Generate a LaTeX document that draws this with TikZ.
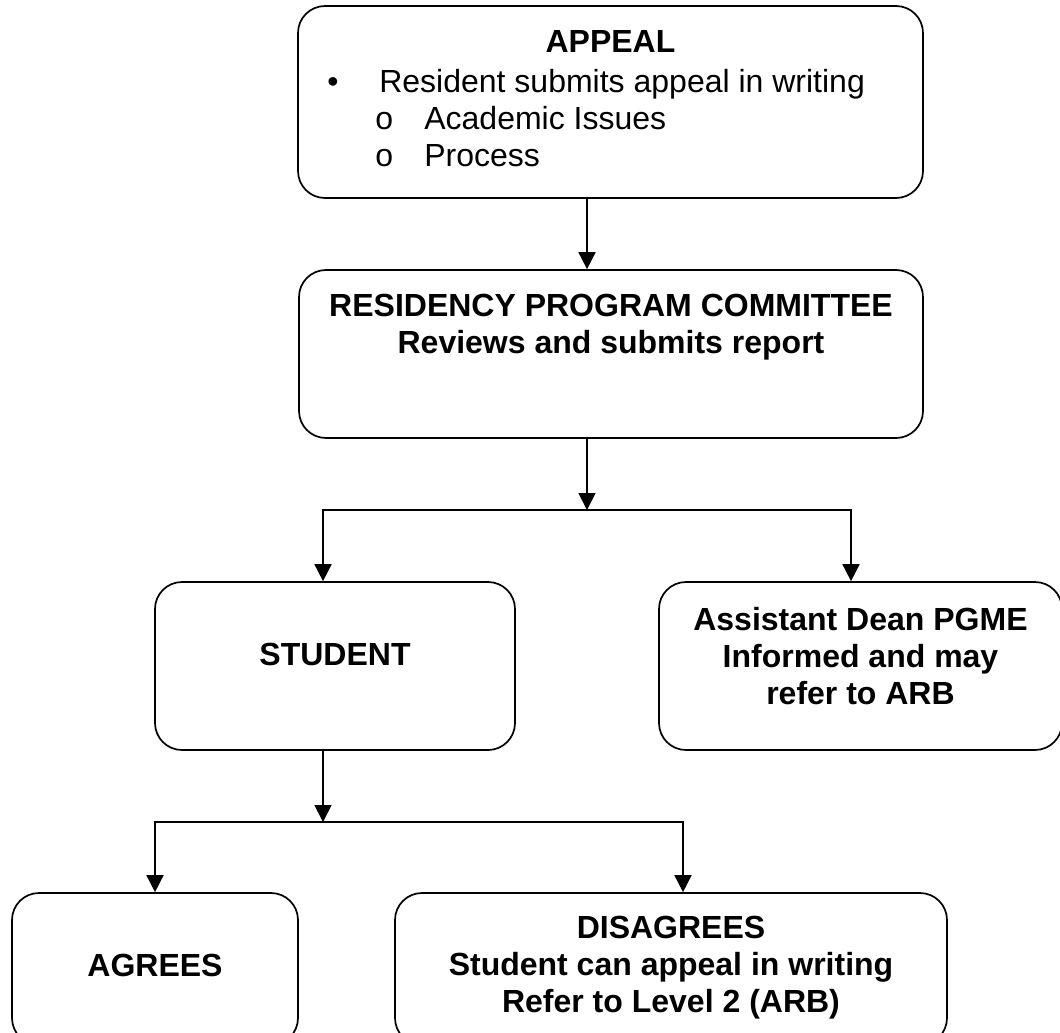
\documentclass[tikz,border=0pt]{standalone}
\usepackage{fontspec}
\setmainfont{Liberation Sans}
\usetikzlibrary{arrows.meta,positioning}

\begin{document}
\begin{tikzpicture}[x=1pt,y=-1pt,
  box/.style={draw,line width=1.7pt,rounded corners=27pt},
  boxtext/.style={inner sep=0pt,align=center,font=\fontsize{32}{37}\selectfont\bfseries},
  bodytext/.style={inner sep=0pt,align=left,font=\fontsize{32}{37}\selectfont},
  flow/.style={line width=1.7pt,-{Triangle[width=17pt,length=17pt]}}]
\useasboundingbox (0,0) rectangle (1060,1033);

\node[box,minimum width=625pt,minimum height=192pt] (appeal) at (610.5,102) {};
\node[box,minimum width=624pt,minimum height=168pt] (rpc) at (611,354) {};
\node[box,minimum width=360pt,minimum height=168pt] (student) at (335,666) {};
\node[box,minimum width=403pt,minimum height=168pt] (dean) at (860.5,666) {};
\node[box,minimum width=286pt,minimum height=152pt] (agrees) at (155,969) {};
\node[box,minimum width=552pt,minimum height=152pt] (disagrees) at (671,969) {};

\node[boxtext,below=25pt of appeal.north] (appealhead) {APPEAL};
\node[bodytext,anchor=north west] (appealbody) at ([xshift=30pt,yshift=-64pt]appeal.north west)
  {\makebox[52pt][l]{\textbullet}Resident submits appeal in writing\\
   \hspace*{48pt}\makebox[49pt][l]{o}Academic Issues\\
   \hspace*{48pt}\makebox[49pt][l]{o}Process};
\node[boxtext,below=25pt of rpc.north] (rpctext) {RESIDENCY PROGRAM COMMITTEE\\Reviews and submits report};
\node[boxtext,below=62pt of student.north] (studenttext) {STUDENT};
\node[boxtext,below=26pt of dean.north] (deantext) {Assistant Dean PGME\\Informed and may\\refer to ARB};
\node[boxtext,below=62pt of agrees.north] (agreestext) {AGREES};
\node[boxtext,below=24pt of disagrees.north] (disagreestext) {DISAGREES\\Student can appeal in writing\\Refer to Level 2 (ARB)};

\coordinate (fork1) at (587,510);
\coordinate (fork2) at (323,822);

\draw[flow] (appeal.south -| fork1) -- (rpc.north -| fork1);
\draw[flow] (rpc.south -| fork1) -- (fork1);
\draw[flow] (fork1) -| (student.north -| fork2);
\draw[flow] (fork1) -| ([xshift=-9.5pt]dean.north);
\draw[flow] (student.south -| fork2) -- (fork2);
\draw[flow] (fork2) -| (agrees.north);
\draw[flow] (fork2) -| ([xshift=12pt]disagrees.north);
\end{tikzpicture}
\end{document}
